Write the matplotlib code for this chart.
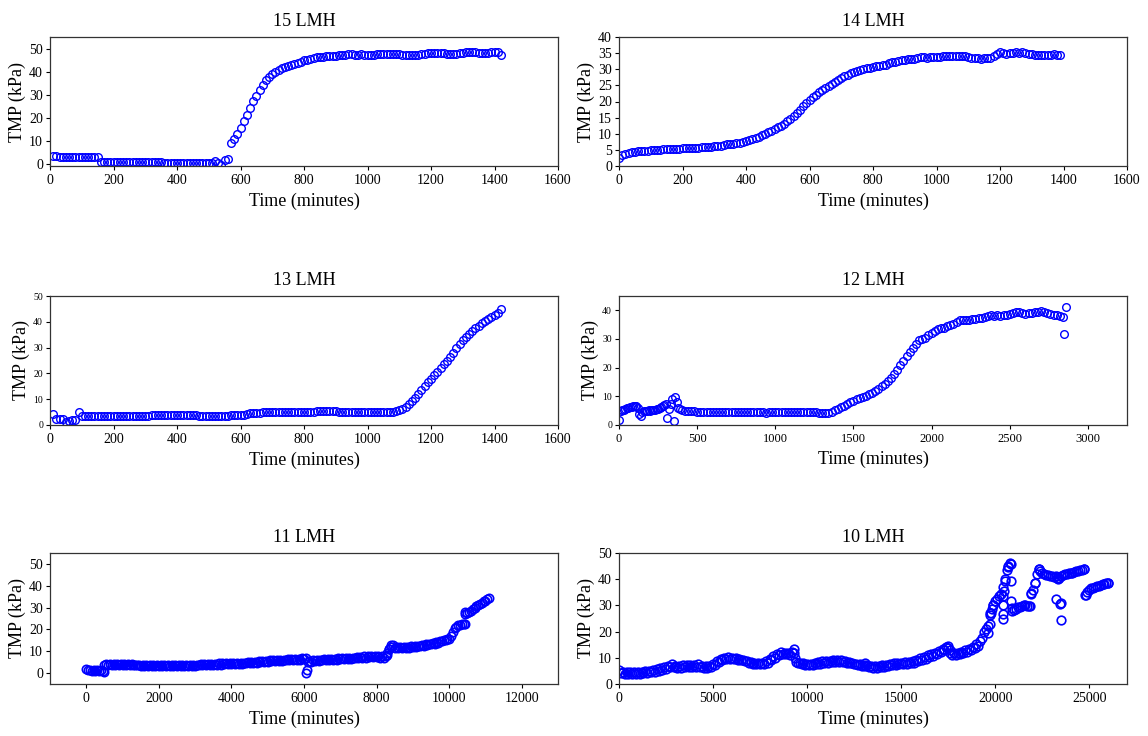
import numpy as np
import matplotlib
matplotlib.use("Agg")
import matplotlib.pyplot as plt

plt.rcParams['font.family'] = ['Liberation Serif', 'DejaVu Serif']

# --- dati (TMP in kPa) ---

# 15 LMH: ogni 10 minuti da 10 a 1420
tmp15 = [3.3, 3.3, 3.1, 3.0, 3.0, 3.0, 3.0, 3.0, 3.0, 3.0,
         3.0, 2.9, 2.9, 2.9, 3.0, 0.6, 0.7, 0.7, 0.7, 0.7,
         0.7, 0.7, 0.7, 0.7, 0.7, 0.7, 0.7, 0.7, 0.7, 0.7,
         0.7, 0.7, 0.7, 0.7, 0.6, 0.3, 0.3, 0.3, 0.3, 0.4,
         0.3, 0.3, 0.3, 0.3, 0.3, 0.3, 0.3, 0.3, 0.3, 0.3,
         0.3, 1.0, 0.3, -0.4, 1.5, 1.9, 8.8, 10.9, 12.9, 15.4,
         18.4, 21.3, 24.1, 27.0, 29.6, 32.2, 34.2, 36.3, 37.8, 39.0,
         40.0, 40.8, 41.5, 42.0, 42.3, 42.7, 43.2, 43.8, 44.3, 44.8,
         45.2, 45.6, 46.0, 46.2, 46.4, 46.5, 46.6, 46.7, 46.8, 46.9,
         47.0, 47.1, 47.3, 47.5, 47.5, 47.0, 47.2, 47.5, 47.3, 47.3,
         47.4, 47.4, 47.5, 47.5, 47.5, 47.5, 47.6, 47.6, 47.6, 47.5,
         47.2, 47.2, 47.3, 47.3, 47.3, 47.4, 47.5, 47.8, 48.0, 48.0,
         48.0, 48.0, 48.0, 47.9, 47.8, 47.8, 47.8, 47.8, 47.9, 48.0,
         48.3, 48.3, 48.3, 48.3, 48.2, 48.0, 48.0, 48.2, 48.3, 48.3,
         48.3, 47.0]
t15 = 10 + 10 * np.arange(len(tmp15))

# 14 LMH: ogni 10 minuti da 0 a 1390
tmp14 = [2.5, 3.5, 3.8, 3.9, 4.2, 4.4, 4.6, 4.7, 4.8, 4.8,
         4.9, 4.9, 5.0, 5.1, 5.2, 5.3, 5.3, 5.4, 5.4, 5.4,
         5.5, 5.5, 5.6, 5.6, 5.7, 5.7, 5.8, 5.9, 6.0, 6.0,
         6.1, 6.2, 6.3, 6.5, 6.7, 6.8, 6.9, 7.0, 7.2, 7.4,
         7.7, 8.0, 8.3, 8.7, 9.1, 9.5, 10.0, 10.5, 11.0, 11.5,
         12.0, 12.5, 13.1, 13.8, 14.6, 15.5, 16.5, 17.5, 18.5, 19.5,
         20.4, 21.3, 22.1, 22.9, 23.6, 24.2, 24.8, 25.4, 26.0, 26.6,
         27.2, 27.8, 28.3, 28.8, 29.1, 29.4, 29.7, 30.0, 30.3, 30.5,
         30.8, 31.0, 31.1, 31.2, 31.4, 31.8, 32.1, 32.4, 32.6, 32.8,
         33.0, 33.1, 33.1, 33.2, 33.5, 33.8, 33.7, 33.4, 33.7, 33.8,
         33.7, 33.8, 34.0, 34.0, 34.0, 34.1, 34.0, 34.0, 34.0, 34.0,
         33.9, 33.6, 33.5, 33.5, 33.3, 33.5, 33.5, 33.6, 34.0, 34.6,
         35.2, 35.0, 34.8, 35.1, 35.0, 35.2, 34.9, 35.2, 35.0, 34.8,
         34.7, 34.4, 34.3, 34.3, 34.4, 34.4, 34.5, 34.6, 34.5, 34.4]
t14 = 10 * np.arange(len(tmp14))

# 13 LMH: ogni 10 minuti da 10 a 1420
tmp13 = [4.3, 2.3, 2.3, 2.2, 1.3, 1.5, 1.8, 2.0, 5.0, 3.6,
         3.4, 3.4, 3.5, 3.6, 3.6, 3.5, 3.5, 3.5, 3.5, 3.5,
         3.5, 3.6, 3.6, 3.6, 3.6, 3.6, 3.5, 3.6, 3.6, 3.6,
         3.6, 3.7, 3.8, 3.8, 3.9, 3.9, 3.8, 3.8, 3.8, 3.8,
         3.8, 3.9, 3.9, 3.8, 3.7, 3.7, 3.6, 3.6, 3.6, 3.6,
         3.5, 3.6, 3.6, 3.6, 3.6, 3.6, 3.7, 3.7, 3.8, 3.8,
         3.7, 4.4, 4.6, 4.7, 4.8, 4.8, 4.9, 5.0, 5.0, 5.0,
         5.0, 5.0, 4.9, 5.0, 5.0, 5.1, 5.1, 5.1, 5.2, 5.2,
         5.2, 5.2, 5.0, 5.3, 5.5, 5.5, 5.6, 5.4, 5.5, 5.5,
         5.2, 5.0, 5.0, 4.9, 4.9, 4.9, 4.9, 4.9, 4.9, 4.9,
         4.9, 4.9, 4.9, 4.9, 4.9, 4.9, 5.0, 5.2, 5.5, 5.8,
         6.3, 7.0, 8.0, 9.2, 10.5, 12.0, 13.5, 15.0, 16.5, 18.0,
         19.3, 20.6, 22.0, 23.5, 25.0, 26.3, 28.0, 29.7, 31.3, 32.8,
         34.0, 35.2, 36.5, 37.5, 38.5, 39.4, 40.3, 41.0, 41.8, 42.5,
         43.3, 45.0]
t13 = 10 + 10 * np.arange(len(tmp13))

# 12 LMH: ogni 10 minuti fino a 390, poi ogni 20 minuti da 400 a 2820
tmp12_a = [1.6, 5.0, 5.2, 5.4, 5.6, 5.8, 6.0, 6.2, 6.4, 6.6,
           6.8, 6.6, 6.0, 4.0, 3.0, 4.5, 4.8, 5.0, 5.0, 5.1,
           5.0, 5.1, 5.2, 5.3, 5.5, 5.7, 6.0, 6.3, 6.6, 7.0,
           7.4, 2.3, 5.7, 7.2, 9.1, 1.3, 9.6, 8.1, 6.0, 5.5]
tmp12_b = [5.3, 5.0, 4.9, 4.8, 4.8, 4.7, 4.7, 4.6, 4.6, 4.6,
           4.5, 4.5, 4.5, 4.4, 4.4, 4.5, 4.5, 4.5, 4.6, 4.5,
           4.6, 4.6, 4.5, 4.5, 4.4, 4.4, 4.4, 4.3, 4.4, 4.4,
           4.5, 4.5, 4.5, 4.5, 4.6, 4.6, 4.5, 4.6, 4.6, 4.5,
           4.5, 4.5, 4.4, 4.4, 4.3, 4.3, 4.3, 4.3, 4.6, 5.2,
           5.7, 6.2, 6.7, 7.3, 7.9, 8.5, 9.0, 9.4, 9.8, 10.2,
           10.8, 11.3, 12.0, 12.7, 13.5, 14.3, 15.3, 16.5, 17.8, 19.3,
           21.0, 22.5, 24.0, 25.5, 27.0, 28.3, 29.5, 30.0, 30.5, 31.3,
           32.0, 32.8, 33.5, 34.0, 33.8, 34.5, 35.0, 35.3, 35.9, 36.5,
           36.8, 36.7, 36.8, 36.9, 37.0, 37.3, 37.5, 37.8, 38.1, 38.2,
           38.0, 38.2, 37.9, 38.3, 38.5, 38.8, 39.2, 39.5, 39.3, 39.0,
           38.8, 39.0, 39.1, 39.3, 39.5, 39.7, 39.5, 39.2, 38.7, 38.4,
           38.2, 37.9]
t12_extra = [2840, 2848, 2860]
tmp12_extra = [37.8, 31.8, 41.2]
t12 = np.concatenate([10 * np.arange(len(tmp12_a)),
                      400 + 20 * np.arange(len(tmp12_b)), t12_extra])
tmp12 = np.concatenate([tmp12_a, tmp12_b, tmp12_extra])

# 11 LMH: ogni 50 minuti da 0 a 11100 + punti isolati
tmp11_grid = [1.8, 1.2, 1.5, 1.0, 1.4, 1.1, 1.3, 0.9, 1.2, 1.0,
              3.5, 4.2, 3.6, 4.1, 3.7, 4.2, 3.6, 4.0, 3.8, 4.1,
              3.6, 4.1, 3.5, 4.0, 3.6, 4.0, 3.5, 3.9, 3.5, 3.9,
              3.4, 3.9, 3.4, 3.8, 3.3, 3.8, 3.3, 3.7, 3.2, 3.7,
              3.2, 3.7, 3.1, 3.7, 3.2, 3.7, 3.1, 3.7, 3.2, 3.8,
              3.1, 3.7, 3.2, 3.7, 3.1, 3.8, 3.2, 3.7, 3.2, 3.8,
              3.4, 3.9, 3.6, 4.2, 3.7, 4.3, 3.7, 4.3, 3.8, 4.3,
              3.8, 4.3, 3.9, 4.4, 3.9, 4.4, 4.0, 4.5, 4.0, 4.5,
              4.1, 4.6, 4.1, 4.6, 4.2, 4.7, 4.3, 4.8, 4.4, 4.9,
              4.5, 5.1, 4.7, 5.3, 4.8, 5.4, 5.0, 5.6, 5.1, 5.7,
              5.3, 5.8, 5.4, 5.9, 5.5, 6.0, 5.6, 6.1, 5.7, 6.2,
              5.8, 6.3, 5.9, 6.4, 6.0, 6.5, 6.1, 6.6, 6.2, 6.7,
              6.4, 6.9, 5.0, 5.5, 5.3, 5.9, 5.6, 6.1, 5.7, 6.2,
              5.8, 6.3, 5.9, 6.4, 6.0, 6.5, 6.1, 6.6, 6.2, 6.7,
              6.3, 6.8, 6.4, 6.9, 6.5, 7.0, 6.6, 7.1, 6.7, 7.2,
              6.8, 7.4, 7.0, 7.6, 7.1, 7.7, 7.2, 7.8, 7.3, 7.8,
              7.2, 7.7, 7.1, 7.6, 7.0, 7.8, 9.0, 11.0, 11.8, 12.8,
              11.4, 12.0, 11.3, 11.9, 11.4, 12.0, 11.5, 12.1, 11.6, 12.2,
              11.8, 12.3, 12.0, 12.5, 12.2, 12.8, 12.5, 13.1, 12.8, 13.4,
              13.1, 13.7, 13.5, 14.1, 14.0, 14.6, 14.5, 15.1, 15.0, 15.6,
              15.8, 16.8, 19.0, 20.5, 21.2, 21.8, 21.8, 22.3, 22.5, 27.0,
              27.3, 28.0, 28.5, 29.2, 29.8, 30.5, 31.0, 31.7, 32.0, 32.8,
              33.2, 33.8, 34.5]
t11_out = [490, 6050, 6070, 8280, 8330, 8400, 10430, 10450]
tmp11_out = [0.3, 0.2, 1.5, 8.5, 11.0, 12.8, 27.8, 22.5]
t11 = np.concatenate([50 * np.arange(len(tmp11_grid)), t11_out])
tmp11 = np.concatenate([tmp11_grid, tmp11_out])

# 10 LMH: ogni 100 minuti da 0 a 26000 + punti isolati
tmp10_grid = [5.2, 4.3, 4.6, 3.9, 4.4, 3.8, 4.4, 3.8, 4.5, 3.9,
              4.6, 4.0, 4.7, 4.1, 4.8, 4.2, 5.0, 4.4, 5.2, 4.6,
              5.6, 5.0, 6.0, 5.4, 6.4, 5.9, 7.0, 6.4, 7.5, 6.3,
              6.8, 6.0, 6.9, 6.2, 7.1, 6.3, 7.1, 6.4, 7.2, 6.5,
              7.3, 6.6, 7.6, 6.5, 7.0, 6.0, 6.8, 6.1, 6.9, 6.3,
              7.8, 7.3, 8.9, 8.3, 9.6, 9.0, 10.0, 9.4, 10.2, 9.6,
              10.1, 9.5, 10.0, 9.3, 9.7, 9.0, 9.3, 8.6, 8.8, 8.1,
              8.3, 7.6, 8.1, 7.5, 8.1, 7.5, 8.2, 7.6, 8.8, 8.2,
              9.7, 9.1, 10.7, 10.1, 11.6, 11.0, 12.3, 11.6, 12.0, 11.3,
              11.8, 11.2, 12.3, 11.7, 8.5, 7.9, 8.1, 7.5, 7.9, 7.3,
              7.7, 7.1, 7.8, 7.2, 8.1, 7.5, 8.4, 7.8, 8.6, 8.0,
              8.7, 8.1, 8.9, 8.3, 9.0, 8.4, 9.1, 8.5, 9.0, 8.4,
              8.8, 8.2, 8.5, 7.9, 8.1, 7.5, 7.8, 7.2, 7.6, 7.0,
              7.3, 6.7, 7.1, 6.5, 6.8, 6.2, 6.8, 6.2, 7.0, 6.4,
              7.2, 6.6, 7.4, 6.8, 7.7, 7.1, 7.9, 7.3, 8.1, 7.5,
              8.2, 7.6, 8.3, 7.7, 8.5, 7.9, 8.8, 8.2, 9.2, 8.6,
              9.8, 9.2, 10.3, 9.7, 10.9, 10.3, 11.4, 10.8, 12.0, 11.4,
              12.7, 12.1, 13.5, 12.9, 14.3, 13.7, 11.8, 11.2, 11.7, 11.1,
              12.0, 11.4, 12.4, 11.8, 12.9, 12.3, 13.4, 12.8, 14.3, 13.7,
              15.2, 14.6, 16.3, 17.5, 20.0, 21.0, 22.3, 27.0, 28.7, 30.0,
              31.5, 32.3, 33.5, 34.3, 37.0, 40.0, 43.5, 45.0, 46.2, 28.0,
              28.2, 28.8, 29.2, 29.5, 29.8, 30.0, 30.0, 29.8, 29.6, 34.8,
              36.0, 38.5, 42.0, 44.0, 43.0, 42.2, 41.8, 41.5, 41.5, 41.3,
              41.2, 41.0, 41.2, 40.3, 40.5, 41.3, 41.6, 41.8, 42.0, 42.2,
              42.3, 42.5, 42.8, 43.0, 43.2, 43.4, 43.6, 43.8, 34.0, 35.3,
              36.0, 36.5, 36.8, 37.1, 37.3, 37.5, 37.8, 38.0, 38.2, 38.4,
              38.6]
t10_out = [9300, 9350, 13100, 17500, 17600, 19600, 19700, 19700, 19750,
           19900, 20400, 20400, 20400, 20420, 20450, 20500, 20700, 20850,
           20850, 20850, 20900, 21850, 21900, 22100, 22300, 23200, 23350,
           23450, 23500, 23500, 24700, 24750, 26000]
tmp10_out = [13.3, 10.0, 8.0, 14.5, 12.8, 19.5, 22.8, 26.5, 27.0,
             30.0, 25.0, 26.8, 30.2, 33.5, 35.5, 39.5, 44.8, 45.8,
             39.5, 31.8, 29.0, 29.7, 34.5, 38.5, 44.0, 32.5, 40.2,
             30.5, 31.0, 24.3, 43.9, 34.0, 38.5]
t10 = np.concatenate([100 * np.arange(len(tmp10_grid)), t10_out])
tmp10 = np.concatenate([tmp10_grid, tmp10_out])

# --- pannelli ---
titles = ['15 LMH', '14 LMH', '13 LMH', '12 LMH', '11 LMH', '10 LMH']
series = [(t15, tmp15), (t14, tmp14), (t13, tmp13),
          (t12, tmp12), (t11, tmp11), (t10, tmp10)]
xlims = [(0, 1600), (0, 1600), (0, 1600), (0, 3250), (-1000, 13000), (0, 27000)]
ylims = [(-1, 55), (0, 40), (0, 50), (0, 45), (-5, 55), (0, 50)]
yticks = [np.arange(0, 51, 10), np.arange(0, 41, 5), np.arange(0, 51, 10),
          np.arange(0, 41, 10), np.arange(0, 51, 10), np.arange(0, 51, 10)]
xticks = [np.arange(0, 1601, 200), np.arange(0, 1601, 200), np.arange(0, 1601, 200),
          np.arange(0, 3001, 500), np.arange(0, 12001, 2000), np.arange(0, 25001, 5000)]
ytick_size = [10, 10, 7, 7, 10, 10]
xtick_size = [10, 10, 10, 9, 10, 10]
msize = [5.5, 5.5, 5.5, 5.5, 6.0, 6.2]
medge = [1.0, 1.0, 1.0, 1.0, 1.2, 1.2]

W, H = 1148, 736
lefts = [50, 619]
rows = [(37, 166), (296, 425), (553, 684)]

fig = plt.figure(figsize=(W / 100, H / 100), dpi=100)
for i in range(6):
    r, c = divmod(i, 2)
    top, bot = rows[r]
    ax = fig.add_axes([lefts[c] / W, 1 - bot / H, 508 / W, (bot - top) / H])
    x, y = series[i]
    ax.plot(x, y, 'o', mfc='none', mec='blue', ms=msize[i], mew=medge[i])
    ax.set_xlim(*xlims[i])
    ax.set_ylim(*ylims[i])
    ax.set_xticks(xticks[i])
    ax.set_yticks(yticks[i])
    ax.tick_params(axis='y', labelsize=ytick_size[i], length=3, pad=2)
    ax.tick_params(axis='x', labelsize=xtick_size[i], length=3, pad=3)
    ax.set_title(titles[i], fontsize=13, pad=8)
    ax.set_xlabel('Time (minutes)', fontsize=13, labelpad=4)
    ax.set_ylabel('TMP (kPa)', fontsize=13, labelpad=2)
    for s in ax.spines.values():
        s.set_linewidth(0.9)
        s.set_color('#333333')

fig.savefig('out.png', dpi=100)
